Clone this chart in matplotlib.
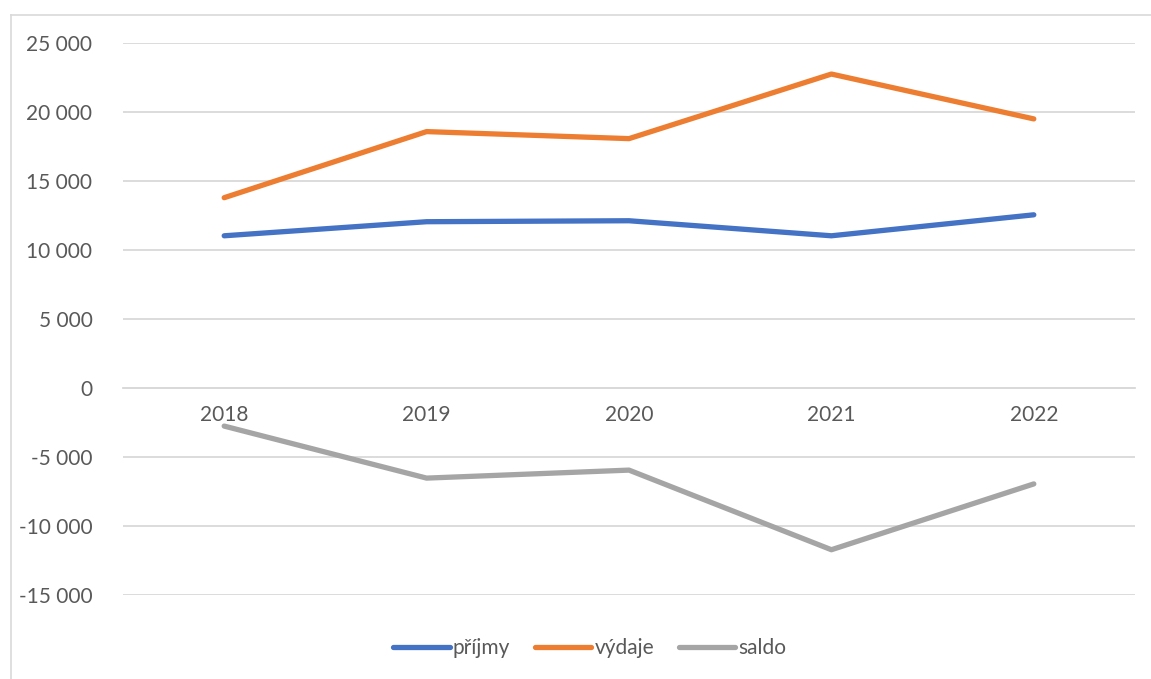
import matplotlib.pyplot as plt
from matplotlib.lines import Line2D
from matplotlib.ticker import FuncFormatter

# Data
years = ["2018", "2019", "2020", "2021", "2022"]
prijmy = [11030, 12050, 12120, 11030, 12550]
vydaje = [13790, 18580, 18070, 22750, 19500]
saldo = [-2760, -6530, -5950, -11720, -6950]

plt.rcParams["font.family"] = ["Lato", "DejaVu Sans"]
text_color = "#595959"
grid_color = "#D9D9D9"

W, H = 1151, 679
fig = plt.figure(figsize=(W / 100, H / 100), dpi=100)
ax = fig.add_axes([123 / W, 1 - 595 / H, (1135 - 123) / W, (595 - 43) / H])

x = range(len(years))
ax.plot(x, prijmy, color="#4472C4", lw=3.8, solid_capstyle="round", solid_joinstyle="round", label="příjmy")
ax.plot(x, vydaje, color="#ED7D31", lw=3.8, solid_capstyle="round", solid_joinstyle="round", label="výdaje")
ax.plot(x, saldo, color="#A5A5A5", lw=3.8, solid_capstyle="round", solid_joinstyle="round", label="saldo")

ax.set_xlim(-0.5, len(years) - 0.5)
ax.set_ylim(-15000, 25000)
ax.set_yticks(range(-15000, 25001, 5000))
ax.yaxis.set_major_formatter(FuncFormatter(lambda v, p: f"{v:,.0f}".replace(",", " ")))
ax.grid(axis="y", color=grid_color, lw=1.3)
ax.set_axisbelow(True)

for s in ["top", "right", "left"]:
    ax.spines[s].set_visible(False)
ax.spines["bottom"].set_position(("data", 0))
ax.spines["bottom"].set_color(grid_color)
ax.spines["bottom"].set_linewidth(1.3)
ax.spines["bottom"].set_zorder(0)

ax.set_xticks(list(x))
ax.set_xticklabels(years)
ax.tick_params(axis="x", length=0, pad=12, labelsize=15, labelcolor=text_color)
ax.tick_params(axis="y", length=0, pad=22, labelsize=15, labelcolor=text_color)
for lbl in ax.get_xticklabels():
    lbl.set_zorder(1)

leg = fig.legend(loc="center", bbox_to_anchor=(590 / W, 1 - 648 / H), ncol=3, frameon=False,
                 fontsize=15, labelcolor=text_color, handlelength=2.7, handletextpad=0.15,
                 columnspacing=1.2)

# chart area border (light gray)
fig.add_artist(Line2D([10.5 / W, 10.5 / W], [0, 1 - 14.5 / H], color=grid_color, lw=1.2))
fig.add_artist(Line2D([10.5 / W, 1], [1 - 14.5 / H, 1 - 14.5 / H], color=grid_color, lw=1.2))

fig.savefig("out.png", dpi=100)
